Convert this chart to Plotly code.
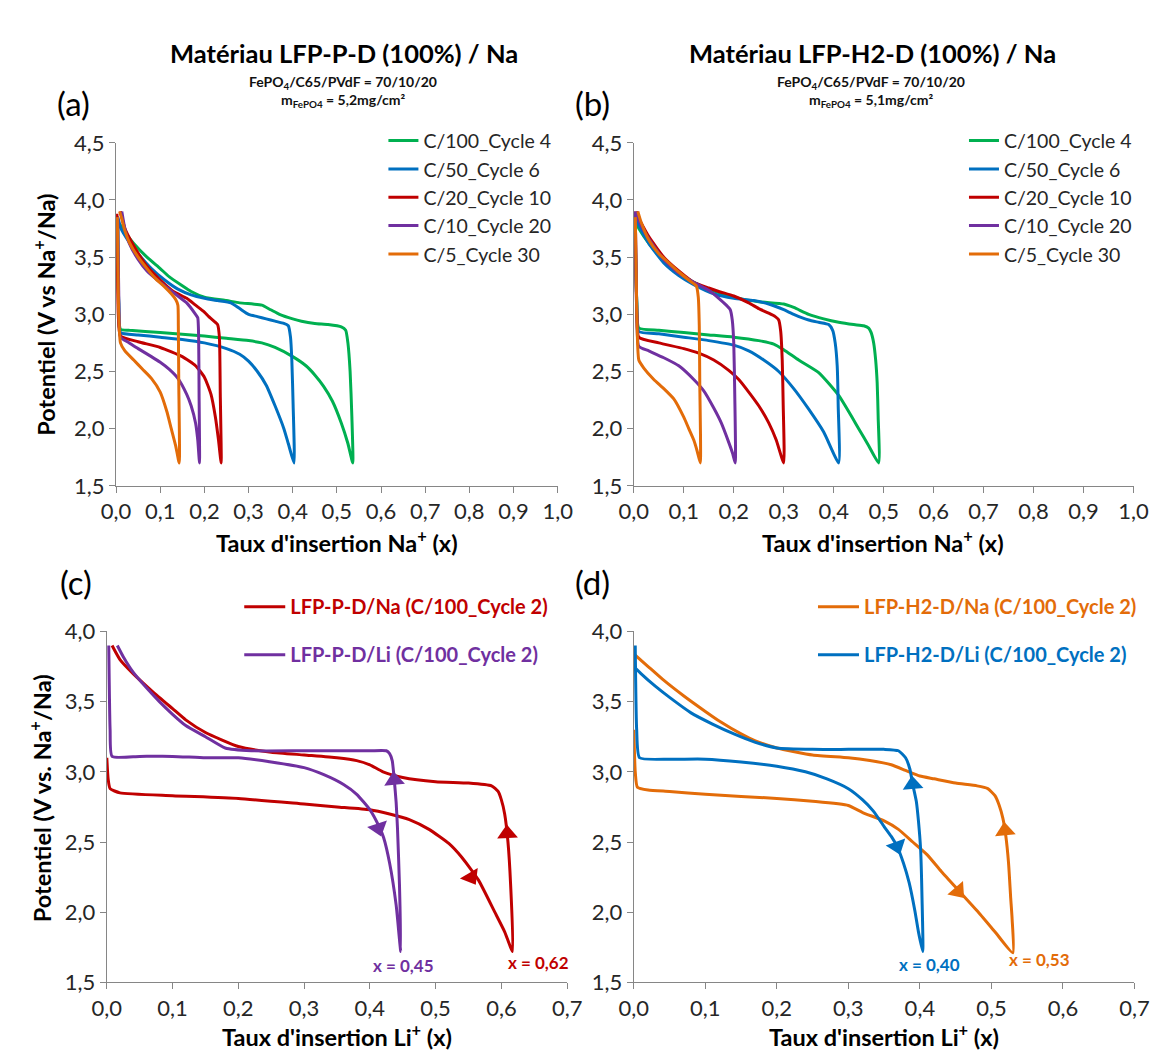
import plotly.graph_objects as go

W, H = 1158, 1057
FONT = "Lato"
GREEN, BLUE, RED, PURPLE, ORANGE = "#00B050", "#0070C0", "#C00000", "#7030A0", "#E36C09"
AXC = "#868686"

# ---------------- Panel (a) LFP-P-D / Na ----------------
a_names = ["C/100_Cycle 4", "C/50_Cycle 6", "C/20_Cycle 10", "C/10_Cycle 20", "C/5_Cycle 30"]
a_c100_x = [0.004, 0.006, 0.01, 0.03, 0.1, 0.2, 0.25, 0.3, 0.33, 0.36, 0.4, 0.43, 0.45, 0.47, 0.49, 0.51, 0.525, 0.536,
            0.534, 0.53, 0.525, 0.52, 0.51, 0.48, 0.45, 0.42, 0.40, 0.37, 0.35, 0.33, 0.31, 0.28, 0.25, 0.2,
            0.17, 0.15, 0.12, 0.1, 0.07, 0.04, 0.02, 0.01, 0.005]
a_c100_y = [3.80, 3.10, 2.87, 2.86, 2.84, 2.81, 2.79, 2.77, 2.75, 2.71, 2.63, 2.55, 2.47, 2.37, 2.24, 2.05, 1.87, 1.70,
            2.10, 2.50, 2.75, 2.86, 2.89, 2.91, 2.92, 2.94, 2.96, 3.00, 3.04, 3.08, 3.09, 3.10, 3.12, 3.15,
            3.20, 3.25, 3.33, 3.40, 3.50, 3.62, 3.72, 3.78, 3.80]
a_c50_x = [0.004, 0.006, 0.01, 0.05, 0.1, 0.15, 0.2, 0.25, 0.28, 0.3, 0.32, 0.34, 0.36, 0.38, 0.39, 0.403,
           0.401, 0.398, 0.395, 0.39, 0.38, 0.36, 0.34, 0.32, 0.30, 0.28, 0.26, 0.23, 0.2, 0.17, 0.14,
           0.11, 0.08, 0.05, 0.03, 0.01, 0.004]
a_c50_y = [3.85, 3.10, 2.84, 2.82, 2.80, 2.78, 2.75, 2.70, 2.65, 2.59, 2.50, 2.38, 2.20, 2.00, 1.87, 1.70,
           2.20, 2.60, 2.80, 2.90, 2.92, 2.94, 2.96, 2.98, 3.00, 3.05, 3.10, 3.12, 3.14, 3.17, 3.22,
           3.30, 3.40, 3.53, 3.63, 3.76, 3.85]
a_c20_x = [0.002, 0.005, 0.01, 0.05, 0.1, 0.15, 0.18, 0.2, 0.215, 0.225, 0.232, 0.238,
           0.236, 0.234, 0.23, 0.225, 0.21, 0.2, 0.18, 0.16, 0.13, 0.1, 0.07, 0.04, 0.02, 0.01]
a_c20_y = [3.88, 3.00, 2.81, 2.76, 2.71, 2.63, 2.55, 2.45, 2.30, 2.10, 1.90, 1.70,
           2.30, 2.80, 2.91, 2.93, 2.98, 3.02, 3.08, 3.14, 3.20, 3.30, 3.42, 3.60, 3.75, 3.90]
a_c10_x = [0.004, 0.007, 0.01, 0.03, 0.05, 0.08, 0.1, 0.12, 0.14, 0.16, 0.17, 0.18, 0.185, 0.189,
           0.188, 0.187, 0.185, 0.18, 0.16, 0.14, 0.12, 0.1, 0.07, 0.05, 0.03, 0.02, 0.013]
a_c10_y = [3.85, 3.00, 2.80, 2.75, 2.70, 2.63, 2.58, 2.52, 2.44, 2.30, 2.20, 2.05, 1.90, 1.70,
           2.30, 2.80, 2.97, 3.00, 3.10, 3.16, 3.22, 3.28, 3.38, 3.48, 3.62, 3.75, 3.90]
a_c5_x = [0.003, 0.006, 0.01, 0.02, 0.04, 0.06, 0.08, 0.1, 0.115, 0.125, 0.135, 0.143,
          0.142, 0.141, 0.14, 0.135, 0.125, 0.11, 0.09, 0.07, 0.05, 0.03, 0.02, 0.012, 0.008]
a_c5_y = [3.85, 3.00, 2.75, 2.68, 2.60, 2.52, 2.44, 2.32, 2.15, 2.00, 1.85, 1.70,
          2.40, 2.90, 3.08, 3.13, 3.18, 3.24, 3.31, 3.40, 3.50, 3.63, 3.73, 3.85, 3.90]

# ---------------- Panel (b) LFP-H2-D / Na ----------------
b_c100_x = [0.004, 0.006, 0.01, 0.05, 0.1, 0.15, 0.2, 0.25, 0.28, 0.3, 0.33, 0.37, 0.41, 0.45, 0.47, 0.49,
            0.489, 0.487, 0.484, 0.48, 0.475, 0.47, 0.46, 0.44, 0.41, 0.38, 0.35, 0.32, 0.3, 0.25, 0.2,
            0.15, 0.12, 0.09, 0.06, 0.03, 0.01, 0.004]
b_c100_y = [3.80, 3.10, 2.88, 2.86, 2.84, 2.82, 2.80, 2.77, 2.74, 2.69, 2.60, 2.49, 2.29, 2.00, 1.85, 1.70,
            2.10, 2.40, 2.60, 2.75, 2.84, 2.88, 2.90, 2.91, 2.93, 2.96, 3.00, 3.06, 3.09, 3.11, 3.15,
            3.22, 3.28, 3.36, 3.47, 3.62, 3.75, 3.80]
b_c50_x = [0.004, 0.006, 0.01, 0.05, 0.1, 0.15, 0.2, 0.23, 0.26, 0.29, 0.32, 0.35, 0.38, 0.41,
           0.409, 0.407, 0.403, 0.398, 0.39, 0.37, 0.35, 0.32, 0.3, 0.27, 0.24, 0.2, 0.16, 0.12,
           0.09, 0.06, 0.03, 0.01, 0.004]
b_c50_y = [3.85, 3.10, 2.85, 2.83, 2.80, 2.77, 2.73, 2.68, 2.60, 2.50, 2.35, 2.17, 1.97, 1.70,
           2.20, 2.55, 2.75, 2.86, 2.91, 2.93, 2.95, 3.00, 3.04, 3.09, 3.12, 3.14, 3.18, 3.26,
           3.34, 3.45, 3.62, 3.78, 3.85]
b_c20_x = [0.003, 0.006, 0.01, 0.05, 0.1, 0.13, 0.16, 0.19, 0.21, 0.23, 0.25, 0.27, 0.285, 0.3,
           0.299, 0.297, 0.294, 0.29, 0.283, 0.27, 0.25, 0.23, 0.2, 0.17, 0.15, 0.12, 0.09, 0.06,
           0.03, 0.01, 0.006]
b_c20_y = [3.90, 3.00, 2.80, 2.75, 2.70, 2.66, 2.60, 2.51, 2.43, 2.32, 2.20, 2.05, 1.90, 1.70,
           2.20, 2.60, 2.85, 2.95, 2.98, 3.01, 3.05, 3.10, 3.16, 3.20, 3.23, 3.28, 3.38, 3.50,
           3.68, 3.84, 3.90]
b_c10_x = [0.003, 0.006, 0.01, 0.03, 0.06, 0.09, 0.12, 0.14, 0.16, 0.175, 0.19, 0.198, 0.203,
           0.202, 0.2, 0.197, 0.193, 0.185, 0.17, 0.15, 0.12, 0.09, 0.06, 0.03, 0.01, 0.004]
b_c10_y = [3.90, 3.00, 2.72, 2.68, 2.62, 2.55, 2.43, 2.33, 2.18, 2.05, 1.88, 1.78, 1.70,
           2.30, 2.75, 2.95, 3.04, 3.08, 3.14, 3.21, 3.28, 3.36, 3.48, 3.66, 3.82, 3.90]
b_c5_x = [0.003, 0.006, 0.01, 0.02, 0.04, 0.06, 0.08, 0.1, 0.11, 0.12, 0.127, 0.133,
          0.132, 0.131, 0.129, 0.125, 0.11, 0.09, 0.07, 0.05, 0.03, 0.015, 0.008]
b_c5_y = [3.85, 3.00, 2.60, 2.53, 2.43, 2.35, 2.26, 2.10, 2.00, 1.90, 1.80, 1.70,
          2.40, 2.90, 3.15, 3.25, 3.30, 3.37, 3.45, 3.53, 3.65, 3.80, 3.90]

# ---------------- Panel (c) LFP-P-D Na vs Li ----------------
c_names = ["LFP-P-D/Na (C/100_Cycle 2)", "LFP-P-D/Li (C/100_Cycle 2)"]
c_na_x = [0.0, 0.002, 0.005, 0.02, 0.1, 0.2, 0.3, 0.35, 0.4, 0.43, 0.46, 0.49, 0.52, 0.54, 0.565, 0.59, 0.605, 0.617,
          0.614, 0.61, 0.605, 0.6, 0.595, 0.585, 0.55, 0.5, 0.45, 0.42, 0.4, 0.38, 0.35, 0.3, 0.25, 0.2,
          0.15, 0.12, 0.1, 0.07, 0.04, 0.02, 0.008]
c_na_y = [3.10, 2.95, 2.88, 2.85, 2.83, 2.81, 2.77, 2.75, 2.73, 2.70, 2.66, 2.59, 2.49, 2.39, 2.23, 2.00, 1.86, 1.72,
          2.20, 2.50, 2.70, 2.80, 2.86, 2.90, 2.92, 2.93, 2.96, 3.00, 3.05, 3.08, 3.10, 3.12, 3.14, 3.18,
          3.28, 3.37, 3.45, 3.57, 3.70, 3.80, 3.90]
c_li_x = [0.003, 0.005, 0.008, 0.05, 0.1, 0.15, 0.2, 0.25, 0.3, 0.33, 0.36, 0.38, 0.4, 0.415, 0.421, 0.43, 0.44, 0.447,
          0.445, 0.442, 0.44, 0.437, 0.434, 0.43, 0.425, 0.4, 0.3, 0.22, 0.18, 0.15, 0.12, 0.1, 0.08,
          0.06, 0.04, 0.025, 0.016]
c_li_y = [3.90, 3.30, 3.11, 3.11, 3.11, 3.10, 3.10, 3.07, 3.03, 2.98, 2.91, 2.84, 2.73, 2.60, 2.53, 2.35, 2.05, 1.72,
          2.20, 2.60, 2.78, 2.95, 3.08, 3.13, 3.15, 3.15, 3.15, 3.15, 3.17, 3.25, 3.33, 3.41, 3.50,
          3.60, 3.71, 3.82, 3.90]
c_arrow_x = [0.554, 0.609, 0.413, 0.437]
c_arrow_y = [2.25, 2.56, 2.60, 2.94]
c_arrow_angle = [149, 357, 162, 355]
c_arrow_color = [RED, RED, PURPLE, PURPLE]
c_label_x = [0.451, 0.656]
c_label_y = [1.62, 1.645]
c_label_text = ["x = 0,45", "x = 0,62"]
c_label_color = [PURPLE, RED]

# ---------------- Panel (d) LFP-H2-D Na vs Li ----------------
d_names = ["LFP-H2-D/Na (C/100_Cycle 2)", "LFP-H2-D/Li (C/100_Cycle 2)"]
d_na_x = [0.0, 0.002, 0.005, 0.02, 0.05, 0.1, 0.2, 0.25, 0.3, 0.32, 0.35, 0.37, 0.39, 0.41, 0.43, 0.455, 0.48, 0.505, 0.53,
          0.529, 0.527, 0.524, 0.52, 0.516, 0.511, 0.505, 0.495, 0.48, 0.45, 0.42, 0.4, 0.38, 0.36, 0.33,
          0.3, 0.25, 0.2, 0.17, 0.15, 0.12, 0.1, 0.07, 0.04, 0.02, 0.0]
d_na_y = [3.30, 3.00, 2.89, 2.87, 2.86, 2.84, 2.81, 2.79, 2.76, 2.71, 2.65, 2.59, 2.50, 2.41, 2.29, 2.15, 2.01, 1.86, 1.71,
          1.95, 2.10, 2.35, 2.55, 2.67, 2.76, 2.83, 2.88, 2.90, 2.92, 2.95, 2.97, 3.01, 3.05, 3.08,
          3.10, 3.12, 3.17, 3.22, 3.27, 3.36, 3.43, 3.54, 3.66, 3.75, 3.84]
d_li_x = [0.002, 0.004, 0.008, 0.05, 0.1, 0.15, 0.2, 0.24, 0.27, 0.3, 0.32, 0.335, 0.35, 0.36, 0.368, 0.377, 0.385,
          0.393, 0.398, 0.404,
          0.403, 0.401, 0.398, 0.395, 0.39, 0.386, 0.38, 0.37, 0.35, 0.3, 0.25, 0.2, 0.17, 0.14, 0.11,
          0.08, 0.05, 0.03, 0.01, 0.0]
d_li_y = [3.90, 3.30, 3.10, 3.09, 3.09, 3.07, 3.04, 3.00, 2.95, 2.88, 2.80, 2.72, 2.61, 2.54, 2.47, 2.35, 2.21,
          2.01, 1.86, 1.72,
          2.10, 2.45, 2.65, 2.79, 2.91, 3.02, 3.10, 3.15, 3.16, 3.16, 3.16, 3.17, 3.21, 3.27, 3.34,
          3.42, 3.53, 3.61, 3.70, 3.75]
d_arrow_x = [0.4535, 0.519, 0.368, 0.390]
d_arrow_y = [2.15, 2.58, 2.47, 2.91]
d_arrow_angle = [139, 355, 160, 355]
d_arrow_color = [ORANGE, ORANGE, BLUE, BLUE]
d_label_x = [0.414, 0.567]
d_label_y = [1.63, 1.66]
d_label_text = ["x = 0,40", "x = 0,53"]
d_label_color = [BLUE, ORANGE]

a_colors = [GREEN, BLUE, RED, PURPLE, ORANGE]

fig = go.Figure()

def add_line(x, y, color, name, xa, ya, legend, group):
    fig.add_trace(go.Scatter(x=x, y=y, mode="lines", name=name,
                             line=dict(color=color, width=3, shape="spline", smoothing=0.5),
                             xaxis=xa, yaxis=ya, legend=legend, legendgroup=group,
                             hoverinfo="skip"))

a_series = [(a_c100_x, a_c100_y), (a_c50_x, a_c50_y), (a_c20_x, a_c20_y), (a_c10_x, a_c10_y), (a_c5_x, a_c5_y)]
b_series = [(b_c100_x, b_c100_y), (b_c50_x, b_c50_y), (b_c20_x, b_c20_y), (b_c10_x, b_c10_y), (b_c5_x, b_c5_y)]
for i, ((x, y), c, n) in enumerate(zip(a_series, a_colors, a_names)):
    add_line(x, y, c, n, "x", "y", "legend", f"a{i}")
for i, ((x, y), c, n) in enumerate(zip(b_series, a_colors, a_names)):
    add_line(x, y, c, n, "x2", "y2", "legend2", f"b{i}")

def cname(t, c):
    return f"<b><span style='color:{c}'>{t}</span></b>"

add_line(c_na_x, c_na_y, RED, cname(c_names[0], RED), "x3", "y3", "legend3", "c0")
add_line(c_li_x, c_li_y, PURPLE, cname(c_names[1], PURPLE), "x3", "y3", "legend3", "c1")
add_line(d_na_x, d_na_y, ORANGE, cname(d_names[0], ORANGE), "x4", "y4", "legend4", "d0")
add_line(d_li_x, d_li_y, BLUE, cname(d_names[1], BLUE), "x4", "y4", "legend4", "d1")

fig.add_trace(go.Scatter(x=c_arrow_x, y=c_arrow_y, mode="markers", xaxis="x3", yaxis="y3", showlegend=False,
                         marker=dict(symbol="triangle-up", size=18, color=c_arrow_color, angle=c_arrow_angle,
                                     line=dict(width=0)), hoverinfo="skip"))
fig.add_trace(go.Scatter(x=d_arrow_x, y=d_arrow_y, mode="markers", xaxis="x4", yaxis="y4", showlegend=False,
                         marker=dict(symbol="triangle-up", size=18, color=d_arrow_color, angle=d_arrow_angle,
                                     line=dict(width=0)), hoverinfo="skip"))

def px(v):
    return v / W

def py(v):
    return 1 - v / H

dom_a, dom_b = [0.0825, 0.474], [0.5415, 0.9845]
dom_c, dom_d = [0.0743, 0.4824], [0.5415, 0.9853]
dom_top, dom_bot = [0.5497, 0.8827], [0.0676, 0.4083]

axis_common = dict(showgrid=False, zeroline=False, showline=True, linecolor=AXC, linewidth=1.2,
                   ticks="outside", ticklen=6, tickcolor=AXC, tickwidth=1.2,
                   tickfont=dict(family=FONT, size=22, color="#262626"), tickformat=".1f")

fig.update_layout(
    width=W, height=H, margin=dict(l=0, r=0, t=0, b=0),
    paper_bgcolor="white", plot_bgcolor="white", separators=", ",
    font=dict(family=FONT, color="#262626"),
    xaxis=dict(domain=dom_a, anchor="y", range=[0, 1], dtick=0.1, **axis_common),
    yaxis=dict(domain=dom_top, anchor="x", range=[1.5, 4.5], dtick=0.5, **axis_common),
    xaxis2=dict(domain=dom_b, anchor="y2", range=[0, 1], dtick=0.1, **axis_common),
    yaxis2=dict(domain=dom_top, anchor="x2", range=[1.5, 4.5], dtick=0.5, **axis_common),
    xaxis3=dict(domain=dom_c, anchor="y3", range=[0, 0.7], dtick=0.1, **axis_common),
    yaxis3=dict(domain=dom_bot, anchor="x3", range=[1.5, 4.0], dtick=0.5, **axis_common),
    xaxis4=dict(domain=dom_d, anchor="y4", range=[0, 0.7], dtick=0.1, **axis_common),
    yaxis4=dict(domain=dom_bot, anchor="x4", range=[1.5, 4.0], dtick=0.5, **axis_common),
)

leg_common = dict(xanchor="left", yanchor="top", bgcolor="rgba(0,0,0,0)", itemclick=False)
fig.update_layout(
    legend=dict(x=px(370), y=py(102), font=dict(family=FONT, size=19.5, color="#262626"),
                traceorder="normal", **leg_common),
    legend2=dict(x=px(966), y=py(102), font=dict(family=FONT, size=19.5, color="#262626"),
                 traceorder="normal", **leg_common),
    legend3=dict(x=px(222), y=py(580), font=dict(family=FONT, size=20), traceorder="grouped",
                 tracegroupgap=19, itemwidth=41, **leg_common),
    legend4=dict(x=px(811), y=py(580), font=dict(family=FONT, size=20), traceorder="grouped",
                 tracegroupgap=19, itemwidth=41, **leg_common),
)

ann = []
def add_text(text, x, y, size, bold=False, color="#000000", angle=0, xref="paper", yref="paper"):
    t = f"<b>{text}</b>" if bold else text
    ann.append(dict(text=t, x=x, y=y, xref=xref, yref=yref, showarrow=False, textangle=angle,
                    xanchor="center", yanchor="middle", font=dict(family=FONT, size=size, color=color)))

# titles
add_text("Matériau LFP-P-D (100%) / Na", px(330), py(32), 25.5, True)
add_text("Matériau LFP-H2-D (100%) / Na", px(872), py(32), 25.5, True)
add_text("FePO<sub>4</sub>/C65/PVdF = 70/10/20", px(329), py(62), 14, True, "#111")
add_text("FePO<sub>4</sub>/C65/PVdF = 70/10/20", px(871), py(62), 14, True, "#111")
add_text("m<sub>FePO4</sub> = 5,2mg/cm²", px(329), py(81), 14, True, "#111")
add_text("m<sub>FePO4</sub> = 5,1mg/cm²", px(871), py(81), 14, True, "#111")
# panel letters
add_text("(a)", px(52), py(83), 33)
add_text("(b)", px(585), py(83), 33)
add_text("(c)", px(54), py(575), 33)
add_text("(d)", px(585), py(575), 33)
# axis titles
add_text("Potentiel (V vs Na<sup>+</sup>/Na)", px(22), py(300), 23.5, True, "#000", -90)
add_text("Potentiel (V vs. Na<sup>+</sup>/Na)", px(18), py(797), 23.5, True, "#000", -90)
add_text("Taux d'insertion Na<sup>+</sup> (x)", px(322), py(533), 23.5, True)
add_text("Taux d'insertion Na<sup>+</sup> (x)", px(883), py(533), 23.5, True)
add_text("Taux d'insertion Li<sup>+</sup> (x)", px(322), py(1040), 23.5, True)
add_text("Taux d'insertion Li<sup>+</sup> (x)", px(884), py(1040), 23.5, True)
# end-point labels
for x, y, t, c in zip(c_label_x, c_label_y, c_label_text, c_label_color):
    add_text(t, x, y, 17, True, c, 0, "x3", "y3")
for x, y, t, c in zip(d_label_x, d_label_y, d_label_text, d_label_color):
    add_text(t, x, y, 17, True, c, 0, "x4", "y4")

fig.update_layout(annotations=ann)
fig.write_html("out.html")
